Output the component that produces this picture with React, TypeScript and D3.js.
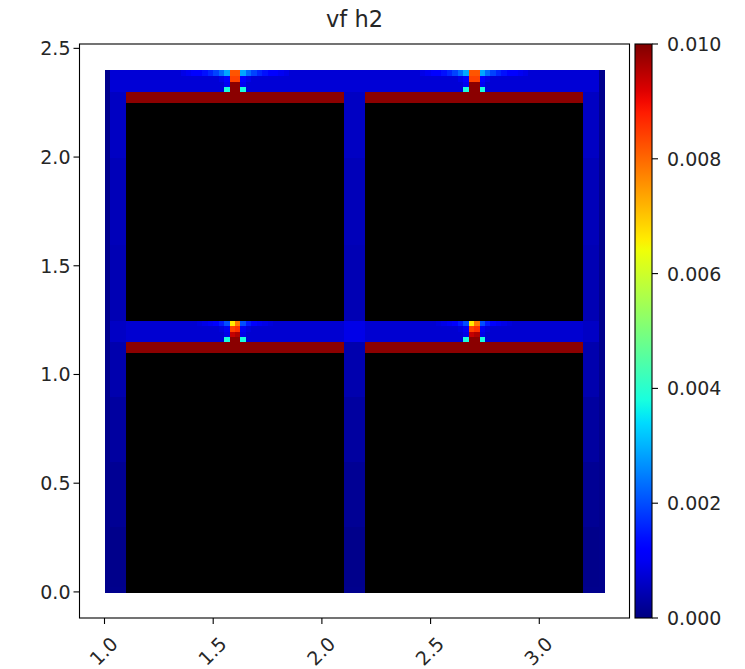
import React from "react";
import * as d3 from "d3";

// ---------- data ----------
const CELL = 0.025;
const X_EXTENT = [1.0, 3.3];
const Y_EXTENT = [0.0, 2.4];
const V_MAX = 0.01;

const xTicks = [1.0, 1.5, 2.0, 2.5, 3.0];
const xTickLabels = ["1.0", "1.5", "2.0", "2.5", "3.0"];
const yTicks = [0.0, 0.5, 1.0, 1.5, 2.0, 2.5];
const yTickLabels = ["0.0", "0.5", "1.0", "1.5", "2.0", "2.5"];
const cbTicks = [0.0, 0.002, 0.004, 0.006, 0.008, 0.01];
const cbTickLabels = ["0.000", "0.002", "0.004", "0.006", "0.008", "0.010"];

// background value of the open (fluid) area
const baseValue = 0.0005;
// vertical columns (left x of each, width 0.1) and their values by height band
const columnXs = [1.0, 2.1, 3.2];
const columnBands = [
  { y0: 0.0, y1: 0.3, v: 0.0001 },
  { y0: 0.3, y1: 0.6, v: 0.00018 },
  { y0: 0.6, y1: 0.9, v: 0.00028 },
  { y0: 0.9, y1: 1.15, v: 0.0004 },
  { y0: 1.25, y1: 1.6, v: 0.00045 },
  { y0: 1.6, y1: 2.0, v: 0.0005 },
  { y0: 2.0, y1: 2.3, v: 0.00058 },
];
// horizontal corridors
const corridors = [
  { y0: 1.15, y1: 1.25, v: 0.0007 },
  { y0: 2.3, y1: 2.4, v: 0.00075 },
];
// brighter crossings
const crossings = [
  { x0: 2.1, x1: 2.2, y0: 1.15, y1: 1.25, v: 0.0009 },
  { x0: 1.0, x1: 1.1, y0: 1.15, y1: 1.25, v: 0.0006 },
  { x0: 3.2, x1: 3.3, y0: 1.15, y1: 1.25, v: 0.0006 },
];
// darker outermost cells
const edgeValue = 0.00012;
// solid blocks (drawn black)
const blocks = [
  { x0: 1.1, x1: 2.1, y0: 0.0, y1: 1.1 },
  { x0: 2.2, x1: 3.2, y0: 0.0, y1: 1.1 },
  { x0: 1.1, x1: 2.1, y0: 1.25, y1: 2.25 },
  { x0: 2.2, x1: 3.2, y0: 1.25, y1: 2.25 },
];
// red strips on top of each block
const bars = [
  { x0: 1.1, x1: 2.1, y0: 1.1, y1: 1.15, v: 0.0099 },
  { x0: 2.2, x1: 3.2, y0: 1.1, y1: 1.15, v: 0.0099 },
  { x0: 1.1, x1: 2.1, y0: 2.25, y1: 2.3, v: 0.0099 },
  { x0: 2.2, x1: 3.2, y0: 2.25, y1: 2.3, v: 0.0099 },
];
// hot spots: centre x, top y of the patch
const hotspotXs = [1.6, 2.7];
const topPatchY = 2.4;
const midPatchY = 1.25;
// patches: rows from top, 20 columns, column 10 starts at the centre x
const N = null;
const topPatch = [
  [0.0009, 0.001, 0.0011, 0.0012, 0.0014, 0.0016, 0.0019, 0.0023, 0.0029, 0.0082, 0.0082, 0.0029, 0.0023, 0.0019, 0.0016, 0.0014, 0.0012, 0.0011, 0.001, 0.0009],
  [N, N, N, N, N, N, N, 0.0009, 0.0011, 0.0084, 0.0084, 0.0011, 0.0009, N, N, N, N, N, N, N],
  [N, N, N, N, N, N, N, N, 0.001, 0.0099, 0.0099, 0.001, N, N, N, N, N, N, N, N],
  [N, N, N, N, N, N, N, N, 0.0038, 0.0099, 0.0099, 0.0038, N, N, N, N, N, N, N, N],
];
const midPatch = [
  [N, N, N, 0.0008, 0.0009, 0.001, 0.0012, 0.0015, 0.002, 0.0066, 0.0078, 0.002, 0.0015, 0.0012, 0.001, 0.0009, 0.0008, N, N, N],
  [N, N, N, N, N, N, N, 0.0008, 0.001, 0.0084, 0.0086, 0.001, 0.0008, N, N, N, N, N, N, N],
  [N, N, N, N, N, N, N, N, 0.0009, 0.0094, 0.0096, 0.0009, N, N, N, N, N, N, N, N],
  [N, N, N, N, N, N, N, N, 0.0038, 0.0099, 0.0099, 0.0038, N, N, N, N, N, N, N, N],
];

// ---------- colormap (matplotlib jet) ----------
const red = d3.scaleLinear().domain([0, 0.35, 0.66, 0.89, 1]).range([0, 0, 1, 1, 0.5]).clamp(true);
const green = d3.scaleLinear().domain([0, 0.125, 0.375, 0.64, 0.91, 1]).range([0, 0, 1, 1, 0, 0]).clamp(true);
const blue = d3.scaleLinear().domain([0, 0.11, 0.34, 0.65, 1]).range([0.5, 1, 1, 0, 0]).clamp(true);
function jet(t: number) {
  const c = (v: number) => Math.round(v * 255);
  return `rgb(${c(red(t))},${c(green(t))},${c(blue(t))})`;
}
const norm = d3.scaleLinear().domain([0, V_MAX]).range([0, 1]).clamp(true);

// ---------- grid ----------
type Cell = { x: number; y: number; v: number | null };
function inside(cx: number, cy: number, r: { x0: number; x1: number; y0: number; y1: number }) {
  return cx > r.x0 && cx < r.x1 && cy > r.y0 && cy < r.y1;
}
function buildGrid(): Cell[] {
  const nx = Math.round((X_EXTENT[1] - X_EXTENT[0]) / CELL);
  const ny = Math.round((Y_EXTENT[1] - Y_EXTENT[0]) / CELL);
  const vals: (number | null)[][] = [];
  for (let i = 0; i < nx; i++) {
    vals.push([]);
    for (let j = 0; j < ny; j++) {
      const cx = X_EXTENT[0] + (i + 0.5) * CELL;
      const cy = Y_EXTENT[0] + (j + 0.5) * CELL;
      let v: number | null = baseValue;
      for (const x0 of columnXs)
        for (const b of columnBands)
          if (inside(cx, cy, { x0, x1: x0 + 0.1, y0: b.y0, y1: b.y1 })) v = b.v;
      for (const c of corridors) if (cy > c.y0 && cy < c.y1) v = c.v;
      for (const c of crossings) if (inside(cx, cy, c)) v = c.v;
      if (i === 0 || i === nx - 1 || j === 0) v = edgeValue;
      for (const b of bars) if (inside(cx, cy, b)) v = b.v;
      for (const b of blocks) if (inside(cx, cy, b)) v = null;
      vals[i].push(v);
    }
  }
  const applyPatch = (patch: (number | null)[][], xc: number, yTop: number) => {
    patch.forEach((row, r) => {
      row.forEach((val, k) => {
        if (val === null) return;
        const i = Math.round((xc - X_EXTENT[0]) / CELL) + (k - 10);
        const j = Math.round((yTop - Y_EXTENT[0]) / CELL) - 1 - r;
        if (vals[i] && j >= 0 && j < ny) vals[i][j] = val;
      });
    });
  };
  for (const xc of hotspotXs) {
    applyPatch(topPatch, xc, topPatchY);
    applyPatch(midPatch, xc, midPatchY);
  }
  const cells: Cell[] = [];
  for (let i = 0; i < nx; i++)
    for (let j = 0; j < ny; j++)
      cells.push({ x: X_EXTENT[0] + i * CELL, y: Y_EXTENT[0] + j * CELL, v: vals[i][j] });
  return cells;
}

// ---------- layout ----------
const W = 745;
const H = 669;
const plot = { left: 79.5, right: 629.5, top: 44, bottom: 618 };
const cb = { left: 635, right: 652, top: 44, bottom: 618 };
const FONT = "'DejaVu Sans', sans-serif";
const TICK_FS = 19;
const TEXT = "#262626";

export default function App() {
  const x = d3.scaleLinear().domain([0.885, 3.415]).range([plot.left, plot.right]);
  const y = d3.scaleLinear().domain([-0.12, 2.52]).range([plot.bottom, plot.top]);
  const cbScale = d3.scaleLinear().domain([0, V_MAX]).range([cb.bottom, cb.top]);
  const cells = buildGrid();
  const cw = x(CELL) - x(0);
  const stops = d3.range(0, 1.0001, 0.02);

  return (
    <svg width={W} height={H} style={{ display: "block", position: "absolute", left: 0, top: 0, background: "#fff" }}>
      <defs>
        <linearGradient id="jetGrad" x1="0" y1="1" x2="0" y2="0">
          {stops.map((t) => (
            <stop key={t} offset={t} stopColor={jet(t)} />
          ))}
        </linearGradient>
      </defs>
      <rect x={0} y={0} width={W} height={H} fill="#fff" />
      {/* heat cells */}
      <g shapeRendering="crispEdges">
        {cells.map((c, k) => (
          <rect
            key={k}
            x={x(c.x)}
            y={y(c.y + CELL)}
            width={cw + 0.6}
            height={cw + 0.6}
            fill={c.v === null ? "#000" : jet(norm(c.v))}
          />
        ))}
      </g>
      {/* frame */}
      <rect x={plot.left} y={plot.top} width={plot.right - plot.left} height={plot.bottom - plot.top} fill="none" stroke="#000" strokeWidth={1.1} />
      {/* x ticks */}
      {xTicks.map((t, k) => (
        <g key={"xt" + k}>
          <line x1={x(t)} x2={x(t)} y1={plot.bottom} y2={plot.bottom + 6} stroke="#000" strokeWidth={1.1} />
          <text
            transform={`translate(${x(t) - 1},${plot.bottom + 33}) rotate(-45)`}
            textAnchor="middle"
            dominantBaseline="central"
            fontFamily={FONT}
            fontSize={TICK_FS}
            fill={TEXT}
          >
            {xTickLabels[k]}
          </text>
        </g>
      ))}
      {/* y ticks */}
      {yTicks.map((t, k) => (
        <g key={"yt" + k}>
          <line x1={plot.left - 6} x2={plot.left} y1={y(t)} y2={y(t)} stroke="#000" strokeWidth={1.1} />
          <text x={plot.left - 9} y={y(t)} textAnchor="end" dominantBaseline="central" fontFamily={FONT} fontSize={TICK_FS} fill={TEXT}>
            {yTickLabels[k]}
          </text>
        </g>
      ))}
      {/* title */}
      <text x={(plot.left + plot.right) / 2} y={27} textAnchor="middle" fontFamily={FONT} fontSize={22.5} fill={TEXT}>
        vf h2
      </text>
      {/* colorbar */}
      <rect x={cb.left} y={cb.top} width={cb.right - cb.left} height={cb.bottom - cb.top} fill="url(#jetGrad)" />
      <rect x={cb.left} y={cb.top} width={cb.right - cb.left} height={cb.bottom - cb.top} fill="none" stroke="#000" strokeWidth={1.1} />
      {cbTicks.map((t, k) => (
        <g key={"ct" + k}>
          <line x1={cb.right} x2={cb.right + 6} y1={cbScale(t)} y2={cbScale(t)} stroke="#000" strokeWidth={1.1} />
          <text x={cb.right + 15} y={cbScale(t)} dominantBaseline="central" fontFamily={FONT} fontSize={TICK_FS} fill={TEXT}>
            {cbTickLabels[k]}
          </text>
        </g>
      ))}
    </svg>
  );
}
